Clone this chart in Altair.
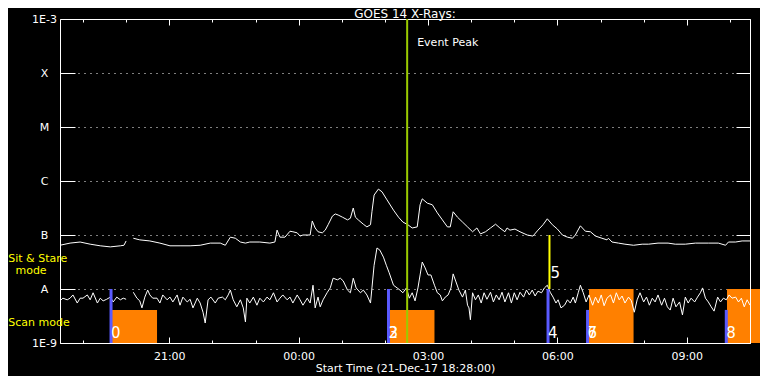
import altair as alt
import pandas as pd

START = pd.Timestamp("2017-12-21 18:28:00")
END = pd.Timestamp("2017-12-22 10:28:00")
GAP_AFTER = 95  # minutes after start: telemetry gap ends at 102

# GOES 14 long channel (1-8 A): (minutes after start, log10 flux W/m^2)
LONG_CHANNEL = [
    (0, -7.19), (14, -7.15), (28, -7.13), (42, -7.17), (56, -7.20), (70, -7.22), (84, -7.20),
    (89, -7.19), (92, -7.11),
    (102, -7.06), (111, -7.09), (125, -7.11), (139, -7.15), (153, -7.20), (167, -7.20),
    (181, -7.20), (195, -7.19), (209, -7.15), (223, -7.15), (230, -7.19), (237, -7.04),
    (244, -7.06), (251, -7.13), (258, -7.15), (264, -7.13), (278, -7.13), (292, -7.15),
    (299, -7.13), (302, -6.91), (306, -7.04), (313, -7.04), (320, -6.93), (324, -6.94),
    (330, -6.96), (334, -7.02), (338, -7.00), (344, -7.00), (348, -7.00), (351, -6.74),
    (355, -6.87), (359, -6.94), (365, -6.96), (369, -6.91), (373, -6.81), (379, -6.65),
    (383, -6.61), (387, -6.63), (393, -6.67), (400, -6.72), (404, -6.69), (408, -6.50),
    (411, -6.67), (415, -6.72), (422, -6.80), (427, -6.85), (432, -6.81), (434, -6.57),
    (437, -6.26), (443, -6.15), (448, -6.20), (455, -6.35), (464, -6.54), (471, -6.67),
    (477, -6.76), (484, -6.81), (490, -6.87), (497, -6.85), (501, -6.44), (504, -6.33),
    (511, -6.41), (518, -6.44), (525, -6.59), (532, -6.72), (539, -6.85), (543, -6.85),
    (547, -6.57), (553, -6.67), (560, -6.76), (567, -6.85), (574, -6.94), (580, -6.87),
    (585, -6.98), (592, -6.94), (599, -6.87), (606, -6.80), (612, -6.87), (619, -6.94),
    (622, -6.87), (626, -6.91), (633, -6.89), (640, -6.94), (650, -7.00), (658, -7.02),
    (665, -6.91), (672, -6.81), (678, -6.70), (685, -6.81), (692, -6.89), (699, -7.00),
    (706, -7.04), (713, -7.06), (717, -7.00), (724, -6.83), (731, -6.93), (738, -6.94),
    (745, -7.02), (754, -7.06), (761, -7.09), (763, -7.06), (768, -7.13), (777, -7.15),
    (786, -7.17), (798, -7.19), (810, -7.17), (819, -7.17), (832, -7.15), (846, -7.15),
    (856, -7.17), (870, -7.17), (884, -7.15), (902, -7.15), (916, -7.15), (926, -7.19),
    (930, -7.13), (940, -7.13), (949, -7.11), (960, -7.11),
]

# GOES 14 short channel (0.5-4 A): (minutes after start, log10 flux W/m^2)
SHORT_CHANNEL = [
    (0, -8.22), (4, -8.17), (10, -8.20), (14, -8.17), (18, -8.11), (24, -8.26), (28, -8.17),
    (32, -8.17), (38, -8.11), (42, -8.20), (46, -8.07), (52, -8.26), (56, -8.17), (60, -8.22),
    (65, -8.19), (70, -8.15), (74, -8.24), (79, -8.15), (84, -8.20), (88, -8.17), (92, -8.19),
    (102, -8.06), (107, -8.17), (111, -8.22), (114, -8.35), (118, -8.15), (122, -8.02),
    (125, -8.11), (129, -8.17), (135, -8.17), (139, -8.26), (143, -8.11), (149, -8.20),
    (153, -8.15), (157, -8.24), (163, -8.11), (167, -8.30), (171, -8.15), (177, -8.24),
    (181, -8.19), (185, -8.35), (191, -8.17), (195, -8.26), (199, -8.43), (202, -8.63),
    (206, -8.20), (210, -8.15), (216, -8.26), (220, -8.17), (226, -8.15), (230, -8.20),
    (234, -8.11), (237, -8.02), (241, -8.20), (246, -8.33), (251, -8.20), (255, -8.35),
    (258, -8.61), (260, -8.17), (264, -8.26), (269, -8.15), (274, -8.30), (278, -8.17),
    (283, -8.24), (288, -8.15), (292, -8.20), (297, -8.07), (302, -8.24), (306, -8.17),
    (310, -8.11), (316, -8.20), (320, -8.15), (324, -8.26), (330, -8.11), (334, -8.20),
    (338, -8.30), (344, -8.17), (348, -8.26), (352, -7.93), (355, -8.35), (359, -8.15),
    (362, -8.33), (366, -8.20), (372, -8.06), (376, -7.98), (380, -7.80), (386, -7.83),
    (390, -7.80), (394, -7.85), (400, -8.02), (404, -8.07), (408, -7.80), (412, -7.98),
    (418, -8.07), (422, -8.02), (427, -8.11), (432, -8.26), (434, -7.98), (437, -7.56),
    (441, -7.24), (445, -7.28), (450, -7.41), (454, -7.56), (458, -7.70), (464, -7.93),
    (469, -7.98), (473, -8.02), (477, -8.07), (482, -7.98), (486, -8.17), (490, -8.07),
    (494, -8.22), (498, -7.98), (501, -7.74), (504, -7.50), (508, -7.61), (512, -7.74),
    (516, -7.74), (521, -7.93), (525, -8.07), (529, -8.11), (532, -8.22), (536, -8.15),
    (540, -8.11), (544, -7.98), (547, -7.72), (551, -7.87), (555, -8.02), (560, -8.15),
    (564, -8.02), (567, -8.30), (569, -8.35), (571, -8.57), (574, -8.07), (578, -8.20),
    (582, -8.11), (586, -8.26), (590, -8.07), (594, -8.19), (599, -8.06), (603, -8.24),
    (607, -8.11), (611, -8.20), (615, -8.06), (619, -8.24), (624, -8.07), (628, -8.26),
    (632, -8.07), (636, -8.20), (640, -8.06), (645, -8.15), (649, -8.02), (653, -8.11),
    (657, -8.02), (661, -8.13), (665, -8.04), (670, -8.07), (674, -7.98), (678, -7.93),
    (682, -8.06), (686, -8.15), (690, -8.26), (693, -8.20), (697, -8.35), (702, -8.30),
    (706, -8.20), (710, -8.26), (714, -8.15), (717, -8.26), (721, -8.07), (724, -7.93),
    (728, -8.07), (732, -8.24), (736, -8.11), (741, -8.30), (745, -8.15), (749, -8.26),
    (753, -8.11), (757, -8.31), (761, -8.17), (766, -8.11), (770, -8.26), (774, -8.07),
    (778, -8.20), (782, -8.13), (786, -8.26), (791, -8.15), (795, -8.22), (799, -8.43),
    (803, -8.20), (807, -8.07), (812, -8.24), (816, -8.15), (820, -8.30), (824, -8.17),
    (828, -8.24), (832, -8.11), (837, -8.30), (841, -8.17), (845, -8.33), (849, -8.39),
    (853, -8.17), (857, -8.33), (862, -8.24), (866, -8.48), (870, -8.15), (874, -8.26),
    (878, -8.17), (883, -8.24), (887, -8.15), (891, -8.07), (894, -7.98), (898, -8.17),
    (902, -8.24), (906, -8.33), (910, -8.41), (915, -8.15), (919, -8.24), (923, -8.17),
    (927, -8.20), (931, -8.11), (935, -8.17), (940, -8.15), (944, -8.24), (948, -8.17),
    (952, -8.33), (956, -8.20), (960, -8.30),
]

# Event peak
PEAK_MIN = 483
PEAK_LABEL = "Event Peak"
PEAK_LABEL_FLUX = 3.6e-4

# Observation markers (blue): minutes after start, top flux
MARK_MIN = [71, 457, 679, 734, 927]
MARK_TOP = [1e-8, 1e-8, 1e-8, 4.1e-9, 4.1e-9]
# Orange mode boxes
BOX_START = [72, 459, 736, 928]
BOX_END = [135, 521, 798, 990]
BOX_TOP = [4.1e-9, 4.1e-9, 1e-8, 1e-8]
# Numbered labels
NUM_TEXT = ["0", "2", "3", "4", "6", "7", "8"]
NUM_MIN = [71, 457, 457, 679, 734, 734, 927]
# Yellow marker 5
FIVE_MIN = 681
FIVE_RANGE = [1e-8, 1e-7]
FIVE_TEXT = "5"
FIVE_LABEL_FLUX = 1.6e-8
# Mode legend labels
MODE_TEXT = ["Sit & Stare", "mode", "Scan mode"]
MODE_MIN = [-72, -62, -72]
MODE_FLUX = [3.6e-8, 2.15e-8, 2.35e-9]

Y_TICKS = [1e-9, 1e-8, 1e-7, 1e-6, 1e-5, 1e-4, 1e-3]
Y_LABELS = ["1E-9", "A", "B", "C", "M", "X", "1E-3"]
MAJOR_TICKS = ["2017-12-21 21:00", "2017-12-22 00:00", "2017-12-22 03:00",
               "2017-12-22 06:00", "2017-12-22 09:00"]
HOUR_TICKS = list(pd.date_range("2017-12-21 19:00", "2017-12-22 10:00", freq="h"))

WHITE = "#ffffff"
ORANGE = "#ff8000"
BLUE = "#5a5aff"
YELLOW = "#ffff00"
GREEN = "#9bcb00"
FONT = "DejaVu Sans"


def iso(m):
    return (START + pd.Timedelta(minutes=m)).strftime("%Y-%m-%dT%H:%M:%S")


def dt(ts):
    ts = pd.Timestamp(ts)
    return alt.DateTime(year=ts.year, month=ts.month, date=ts.day,
                        hours=ts.hour, minutes=ts.minute)


def curve_df(pairs):
    return pd.DataFrame({
        "t": [iso(m) for m, _ in pairs],
        "flux": [10 ** v for _, v in pairs],
        "seg": [0 if m < GAP_AFTER else 1 for m, _ in pairs],
    })


long_df = curve_df(LONG_CHANNEL)
short_df = curve_df(SHORT_CHANNEL)
marks_df = pd.DataFrame({"t": [iso(m) for m in MARK_MIN], "lo": Y_TICKS[0], "hi": MARK_TOP})
boxes_df = pd.DataFrame({"t0": [iso(m) for m in BOX_START], "t1": [iso(m) for m in BOX_END],
                         "lo": Y_TICKS[0], "hi": BOX_TOP})
nums_df = pd.DataFrame({"t": [iso(m) for m in NUM_MIN], "f": Y_TICKS[0], "label": NUM_TEXT})
five_df = pd.DataFrame({"t": [iso(FIVE_MIN)], "lo": [FIVE_RANGE[0]], "hi": [FIVE_RANGE[1]],
                        "f": [FIVE_LABEL_FLUX], "label": [FIVE_TEXT]})
peak_df = pd.DataFrame({"t": [iso(PEAK_MIN)], "lo": [Y_TICKS[0]], "hi": [Y_TICKS[-1]],
                        "f": [PEAK_LABEL_FLUX], "label": [PEAK_LABEL]})
mode_df = pd.DataFrame({"t": [iso(m) for m in MODE_MIN], "f": MODE_FLUX, "label": MODE_TEXT})

xs = alt.Scale(domain=[dt(START), dt(END)])
ys = alt.Scale(type="log", domain=[Y_TICKS[0], Y_TICKS[-1]], nice=False)

label_expr = " : ".join(
    f"datum.value < {v * 3:.1e} ? '{lab}'" for v, lab in zip(Y_TICKS[:-1], Y_LABELS[:-1])
) + f" : '{Y_LABELS[-1]}'"

major_vals = [dt(s) for s in MAJOR_TICKS]
hour_vals = [dt(s) for s in HOUR_TICKS]

common = dict(grid=False, domain=False, title=None)

ax_bottom_major = alt.Axis(
    orient="bottom", offset=-6, tickSize=6, values=major_vals, format="%H:%M",
    labelColor=WHITE, labelFont=FONT, labelFontSize=11, labelPadding=7,
    tickColor=WHITE, grid=False, domain=False,
    title="Start Time (21-Dec-17 18:28:00)", titleColor=WHITE, titleFont=FONT,
    titleFontSize=11, titleFontWeight="normal", titleY=31, titleBaseline="middle",
)
ax_bottom_minor = alt.Axis(orient="bottom", offset=-3, tickSize=3, values=hour_vals,
                           labels=False, tickColor=WHITE, **common)
ax_top_major = alt.Axis(orient="top", offset=-6, tickSize=6, values=major_vals,
                        labels=False, tickColor=WHITE, **common)
ax_top_minor = alt.Axis(orient="top", offset=-3, tickSize=3, values=hour_vals,
                        labels=False, tickColor=WHITE, **common)
ax_bottom_frame = alt.Axis(orient="bottom", ticks=False, labels=False, grid=False,
                           domain=True, domainColor=WHITE, domainWidth=1, zindex=1, title=None)
ax_right_frame = alt.Axis(orient="right", ticks=False, labels=False, grid=False,
                          domain=True, domainColor=WHITE, domainWidth=1, zindex=1, title=None)
ax_y_grid = alt.Axis(orient="left", values=Y_TICKS[1:-1], grid=True, gridColor=WHITE,
                     gridDash=[1, 5], gridOpacity=1, gridWidth=1, ticks=False, labels=False,
                     domain=False, title=None)
ax_y_left = alt.Axis(orient="left", values=Y_TICKS, offset=-15, tickSize=15, tickColor=WHITE,
                     labelExpr=label_expr, labelAlign="center", labelBaseline="middle",
                     labelPadding=16, labelColor=WHITE, labelFont=FONT, labelFontSize=11,
                     **common)
ax_y_right = alt.Axis(orient="right", values=Y_TICKS, offset=-14, tickSize=14,
                      tickColor=WHITE, labels=False, **common)

orange = alt.Chart(boxes_df).mark_rect(color=ORANGE).encode(
    x=alt.X("t0:T", scale=xs, axis=ax_top_major),
    x2="t1",
    y=alt.Y("lo:Q", scale=ys, axis=ax_y_right),
    y2="hi",
)
long_line = alt.Chart(long_df).mark_line(color=WHITE, strokeWidth=1).encode(
    x=alt.X("t:T", scale=xs, axis=ax_bottom_major),
    y=alt.Y("flux:Q", scale=ys, axis=ax_y_grid),
    detail="seg:N",
)
short_line = alt.Chart(short_df).mark_line(color=WHITE, strokeWidth=1).encode(
    x=alt.X("t:T", scale=xs, axis=ax_bottom_minor),
    y=alt.Y("flux:Q", scale=ys, axis=ax_y_left),
    detail="seg:N",
)
blue = alt.Chart(marks_df).mark_rule(color=BLUE, strokeWidth=3).encode(
    x=alt.X("t:T", scale=xs, axis=ax_top_minor),
    y=alt.Y("lo:Q", scale=ys, axis=ax_right_frame),
    y2="hi",
)
yellow = alt.Chart(five_df).mark_rule(color=YELLOW, strokeWidth=2).encode(
    x=alt.X("t:T", scale=xs, axis=ax_bottom_frame),
    y=alt.Y("lo:Q", scale=ys, axis=None),
    y2="hi",
)
green = alt.Chart(peak_df).mark_rule(color=GREEN, strokeWidth=2).encode(
    x=alt.X("t:T", scale=xs, axis=None),
    y=alt.Y("lo:Q", scale=ys, axis=None),
    y2="hi",
)
num_txt = alt.Chart(nums_df).mark_text(
    align="left", baseline="alphabetic", dy=-5, fontSize=15, font=FONT, color=WHITE
).encode(
    x=alt.X("t:T", scale=xs, axis=None), y=alt.Y("f:Q", scale=ys, axis=None), text="label:N"
)
five_txt = alt.Chart(five_df).mark_text(
    align="left", baseline="alphabetic", dx=1, fontSize=15, font=FONT, color=WHITE
).encode(
    x=alt.X("t:T", scale=xs, axis=None), y=alt.Y("f:Q", scale=ys, axis=None), text="label:N"
)
peak_txt = alt.Chart(peak_df).mark_text(
    align="left", baseline="middle", dx=10, fontSize=11, font=FONT, color=WHITE
).encode(
    x=alt.X("t:T", scale=xs, axis=None), y=alt.Y("f:Q", scale=ys, axis=None), text="label:N"
)
mode_txt = alt.Chart(mode_df).mark_text(
    align="left", baseline="middle", fontSize=11, font=FONT, color=YELLOW
).encode(
    x=alt.X("t:T", scale=xs, axis=None), y=alt.Y("f:Q", scale=ys, axis=None), text="label:N"
)

chart = alt.layer(
    orange, long_line, short_line, blue, yellow, green, num_txt, five_txt, peak_txt, mode_txt
).resolve_axis(
    x="independent", y="independent"
).properties(
    width=690, height=324, background="black",
    autosize=alt.AutoSizeParams(type="none"),
    padding={"left": 52, "top": 11, "right": 10, "bottom": 33},
    title=alt.TitleParams("GOES 14 X-Rays:", color=WHITE, font=FONT, fontSize=12,
                          fontWeight="normal", anchor="middle", frame="group",
                          offset=1, dy=9),
).configure_view(stroke=WHITE, strokeWidth=1)

chart.save("out.html", embed_options={"renderer": "svg", "actions": False})
